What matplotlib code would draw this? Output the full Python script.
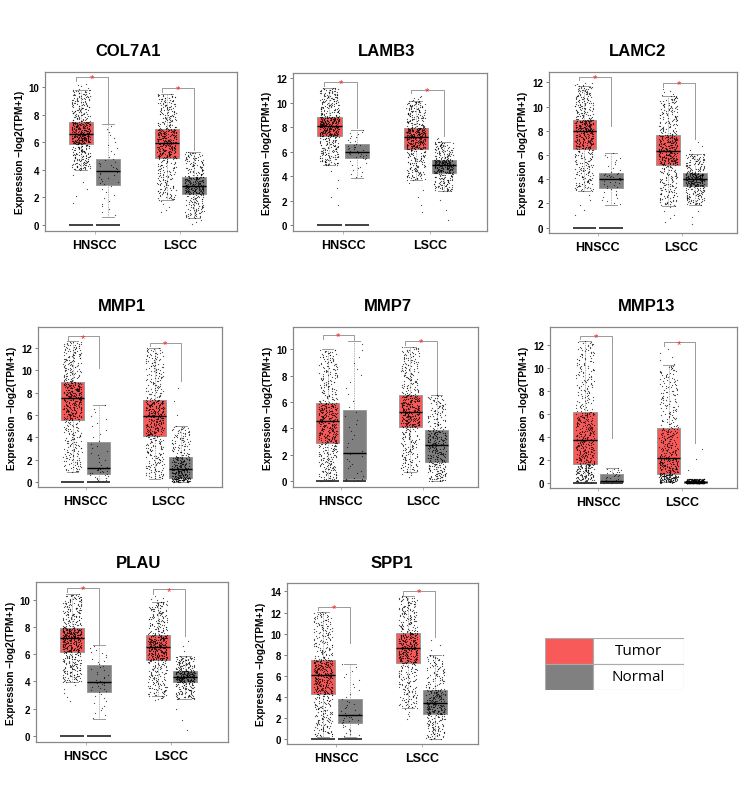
import numpy as np
import matplotlib
matplotlib.use("Agg")
import matplotlib.pyplot as plt
from matplotlib.patches import Rectangle

plt.rcParams['font.family'] = ['Liberation Sans', 'DejaVu Sans']

genes = ["COL7A1", "LAMB3", "LAMC2", "MMP1", "MMP7", "MMP13", "PLAU", "SPP1"]
cancers = ["HNSCC", "LSCC"]
groups = ["Tumor", "Normal"]

# sample counts per group: HNSCC-T, HNSCC-N, LSCC-T, LSCC-N
counts = [519, 44, 486, 338]

# per gene, per group: [lowest point, lower whisker, q1, median, q3, upper whisker, highest point]
# group order: HNSCC Tumor, HNSCC Normal, LSCC Tumor, LSCC Normal
stats = {
    "COL7A1": [[1.3, 4.0, 5.9, 6.6, 7.5, 9.8, 10.3],
               [0.6, 0.6, 2.9, 3.9, 4.8, 7.3, 7.3],
               [0.8, 1.8, 4.85, 5.95, 6.95, 9.5, 9.5],
               [0.0, 0.5, 2.25, 2.8, 3.5, 5.3, 5.3]],
    "LAMB3": [[1.3, 4.9, 7.25, 8.1, 8.85, 11.2, 11.2],
              [1.4, 3.9, 5.45, 6.0, 6.6, 7.8, 7.8],
              [0.8, 3.7, 6.2, 7.2, 7.95, 10.15, 10.6],
              [0.0, 2.8, 4.25, 4.9, 5.35, 6.8, 7.2]],
    "LAMC2": [[0.8, 3.0, 6.5, 7.95, 8.9, 11.7, 12.0],
              [1.1, 1.9, 3.25, 4.05, 4.5, 6.2, 8.3],
              [0.3, 1.8, 5.2, 6.35, 7.65, 10.9, 11.5],
              [0.0, 1.9, 3.4, 4.0, 4.5, 6.1, 7.2]],
    "MMP1": [[0.9, 0.9, 5.6, 7.5, 8.95, 12.6, 12.6],
             [0.05, 0.05, 0.75, 1.25, 3.55, 6.9, 10.1],
             [0.3, 0.3, 4.15, 5.9, 7.35, 12.05, 12.05],
             [0.0, 0.0, 0.4, 1.15, 2.25, 5.0, 9.0]],
    "MMP7": [[0.0, 0.0, 2.9, 4.55, 5.95, 10.0, 10.0],
             [0.0, 0.0, 0.15, 2.15, 5.4, 10.65, 10.65],
             [0.3, 0.7, 4.1, 5.25, 6.55, 10.2, 10.2],
             [0.0, 0.0, 1.45, 2.75, 3.85, 6.55, 6.55]],
    "MMP13": [[0.0, 0.0, 1.65, 3.75, 6.15, 12.4, 12.4],
              [0.0, 0.0, 0.05, 0.15, 0.75, 1.3, 3.8],
              [0.0, 0.05, 0.75, 2.15, 4.75, 10.25, 11.8],
              [0.0, 0.0, 0.0, 0.05, 0.15, 0.35, 3.4]],
    "PLAU": [[2.4, 3.95, 6.15, 7.2, 7.9, 10.4, 10.4],
             [1.25, 1.25, 3.2, 3.95, 5.2, 6.65, 6.65],
             [2.6, 2.9, 5.55, 6.5, 7.4, 9.85, 10.3],
             [0.0, 2.7, 3.95, 4.35, 4.8, 5.85, 7.2]],
    "SPP1": [[0.25, 0.25, 4.25, 6.05, 7.55, 12.05, 12.05],
             [0.2, 0.2, 1.55, 2.3, 3.85, 7.15, 9.0],
             [1.8, 2.95, 7.2, 8.6, 10.1, 13.55, 13.55],
             [0.0, 0.0, 2.35, 3.4, 4.7, 8.0, 9.6]],
}

# which groups carry a line of zero values (HNSCC tumor and normal)
zero_groups = [0, 1]

ymax = [11.1, 12.4, 12.85, 13.9, 11.7, 13.6, 11.3, 14.8]

# axes boxes in pixels: left, top, right, bottom
boxes_px = [(45, 73, 237, 232), (293, 74, 487, 232), (549, 73, 737, 234),
            (38, 328, 222, 488), (293, 328, 478, 488), (550, 328, 737, 489),
            (36, 583, 228, 743), (287, 584, 478, 745)]
titles_px = [(128, 52), (387, 52), (637, 52),
             (122, 307), (388, 307), (647, 307),
             (139, 564), (392, 564)]

W, H = 750, 803
red = "#F85A5A"
grey = "#808080"
colors = [red, grey, red, grey]
pos = [0.84, 1.16, 1.84, 2.16]
bw = 0.28

fig = plt.figure(figsize=(W / 100, H / 100), dpi=100)
rng = np.random.default_rng(3)

for k, g in enumerate(genes):
    l, t, r, b = boxes_px[k]
    ax = fig.add_axes([l / W, 1 - b / H, (r - l) / W, (b - t) / H])
    st = stats[g]
    bxp = []
    for s in st:
        bxp.append(dict(whislo=s[1], q1=s[2], med=s[3], q3=s[4], whishi=s[5], fliers=[]))
    res = ax.bxp(bxp, positions=pos, widths=bw, patch_artist=True, showfliers=False,
                 boxprops=dict(edgecolor="#9a9a9a", linewidth=0.7),
                 medianprops=dict(color="black", linewidth=1.0),
                 whiskerprops=dict(color="#9a9a9a", linewidth=0.6, linestyle=(0, (1, 1))),
                 capprops=dict(color="#9a9a9a", linewidth=0.7), capwidths=bw * 0.5,
                 manage_ticks=False, zorder=2)
    for p, c in zip(res["boxes"], colors):
        p.set_facecolor(c)
    for m in res["medians"]:
        m.set_zorder(5)

    # sample points laid out along each group's quantile curve
    for i, s in enumerate(st):
        n = counts[i]
        u = (np.arange(n) + 0.5) / n
        p_lo = 0.01 if s[0] < s[1] else 0.0
        p_hi = 0.99 if s[6] > s[5] else 1.0
        vals = np.interp(u, [0, p_lo + 1e-6, 0.25, 0.5, 0.75, p_hi - 1e-6, 1],
                         [s[0], s[1], s[2], s[3], s[4], s[5], s[6]])
        xs = pos[i] + rng.uniform(-0.11, 0.11, n)
        ax.scatter(xs, vals, s=0.8, color="black", alpha=0.7, linewidths=0, zorder=4)

    for i in zero_groups:
        ax.hlines(0, pos[i] - bw / 2, pos[i] + bw / 2, color="#333333", lw=1.3, zorder=5)

    # significance brackets
    for j in range(2):
        it, inn = 2 * j, 2 * j + 1
        top = max(st[it][6], st[inn][6]) + 0.45
        x0 = pos[it] - 0.06
        x1 = pos[inn]
        ax.plot([x0, x0, x1, x1], [top - 0.3, top, top, st[inn][6] + 0.1],
                color="#9a9a9a", lw=0.7, zorder=3)
        ax.text((x0 + x1) / 2, top - 0.1, "*", color="#ff2020", fontsize=8,
                ha="center", va="center", zorder=6)

    ax.set_xlim(0.42, 2.66)
    ax.set_ylim(-0.45, ymax[k])
    ax.set_yticks(np.arange(0, ymax[k], 2))
    ax.set_xticks([1, 2])
    ax.set_xticklabels(cancers, fontsize=9, fontweight="bold")
    ax.tick_params(axis="y", labelsize=7, length=2.5, width=0.6, color="#666666", pad=1.5)
    ax.tick_params(axis="x", length=2.5, width=0.6, color="#aaaaaa", pad=3)
    for lab in ax.get_yticklabels():
        lab.set_fontweight("bold")
    for sp in ax.spines.values():
        sp.set_color("#888888")
        sp.set_linewidth(0.9)
    ax.set_ylabel("Expression \u2013log2(TPM+1)", fontsize=7.3, fontweight="bold", labelpad=3)

    tx, ty = titles_px[k]
    fig.text(tx / W, 1 - ty / H, g, fontsize=12, fontweight="bold", ha="center", va="center")

# legend drawn as a small two-row table
lax = fig.add_axes([545 / W, 1 - 691 / H, (684 - 545) / W, (691 - 639) / H])
lax.set_xlim(0, 139)
lax.set_ylim(0, 52)
lax.axis("off")
for j, (lab, c) in enumerate(zip(groups, [red, grey])):
    y0 = 26 - 26 * j
    lax.add_patch(Rectangle((0, y0), 48, 26, facecolor=c, edgecolor="#aaaaaa", lw=0.8))
    lax.add_patch(Rectangle((48, y0), 91, 26, facecolor="white", edgecolor="#aaaaaa", lw=0.8))
    lax.text(93.5, y0 + 13, lab, fontsize=11, ha="center", va="center",
             family=["Open Sans", "DejaVu Sans"])

fig.savefig("out.png", dpi=100)
